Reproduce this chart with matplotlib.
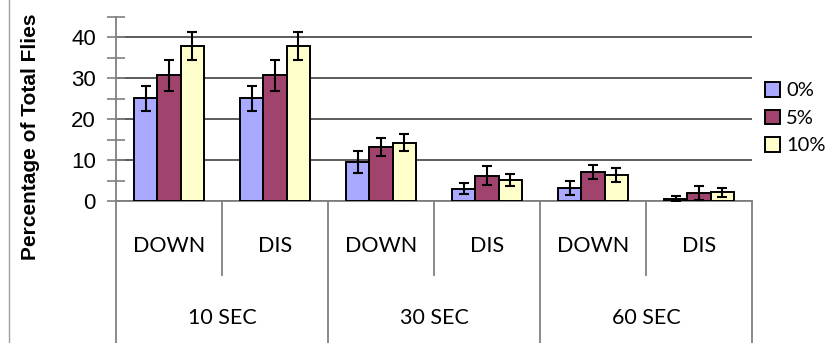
import matplotlib.pyplot as plt
import numpy as np
from matplotlib.lines import Line2D

# data
subCats = ['DOWN', 'DIS', 'DOWN', 'DIS', 'DOWN', 'DIS']
timeCats = ['10 SEC', '30 SEC', '60 SEC']
seriesNames = ['0%', '5%', '10%']
vals0 = [25.1, 25.1, 9.5, 3.0, 3.2, 0.6]
vals5 = [30.8, 30.8, 13.2, 6.2, 7.1, 2.0]
vals10 = [37.9, 37.9, 14.3, 5.1, 6.3, 2.1]
err0 = [3.0, 3.0, 2.7, 1.4, 1.8, 0.6]
err5 = [3.8, 3.8, 2.3, 2.4, 1.7, 1.7]
err10 = [3.5, 3.5, 2.1, 1.4, 1.75, 1.2]
colours = ['#A9A9FF', '#A0446E', '#FFFFCC']

fig = plt.figure(figsize=(8.38, 3.43), dpi=100)
ax = fig.add_axes([116/838, 1 - 201/343, (752 - 116)/838, 184/343])

x = np.arange(len(subCats))
w = 0.217
for i, (v, e) in enumerate(zip([vals0, vals5, vals10], [err0, err5, err10])):
    ax.bar(x + (i - 1) * w, v, width=w, color=colours[i], edgecolor='black',
           linewidth=1.4, label=seriesNames[i], zorder=3)
    ax.errorbar(x + (i - 1) * w, v, yerr=e, fmt='none', ecolor='black',
                elinewidth=1.5, capsize=3.6, capthick=1.5, zorder=4)

ax.set_xlim(-0.5, len(subCats) - 0.5)
ax.set_ylim(0, 45)
ax.set_yticks([0, 10, 20, 30, 40])
ax.set_yticks([5, 15, 25, 35, 45], minor=True)
ax.set_yticklabels(['0', '10', '20', '30', '40'], family='Liberation Sans', fontsize=16)
ax.tick_params(axis='y', which='both', direction='inout', length=13, width=1.2,
               color='#808080', pad=8)
ax.grid(axis='y', color='#404040', linewidth=1.2, zorder=0)
ax.set_xticks([])
for s in ['top', 'right']:
    ax.spines[s].set_visible(False)
ax.spines['left'].set_color('#808080')
ax.spines['left'].set_linewidth(1.3)
ax.spines['bottom'].set_color('#808080')
ax.spines['bottom'].set_linewidth(1.3)

# two-level category axis
trans = ax.get_xaxis_transform()
for k in range(len(subCats) + 1):
    b = k - 0.5
    bottom = -0.78 if k % 2 == 0 else -0.40
    ax.add_line(Line2D([b, b], [0, bottom], transform=trans, color='#808080',
                       linewidth=1.3, clip_on=False))
for k, lab in enumerate(subCats):
    ax.text(k, -0.245, lab, transform=trans, ha='center', va='center',
            family='Lato', fontsize=15.5)
for k, lab in enumerate(timeCats):
    ax.text(2 * k + 0.5, -0.636, lab, transform=trans, ha='center', va='center',
            family='Lato', fontsize=15.5)

fig.text(31/838, 1 - 137/343, 'Percentage of Total Flies', rotation=90,
         ha='center', va='center', family='Liberation Sans', fontweight='bold',
         fontsize=15)
fig.add_artist(Line2D([9/838, 9/838], [0, 1], color='#A0A0A0', linewidth=1.0))

leg = ax.legend(loc='center left', bbox_to_anchor=(1.008, 0.45), frameon=False,
                borderaxespad=0, prop={'family': 'Lato', 'size': 14.5},
                handlelength=0.75, handleheight=0.75, handletextpad=0.3,
                labelspacing=0.5)
for h in leg.legend_handles:
    h.set_linewidth(1.4)

fig.savefig('out.png', dpi=100)
